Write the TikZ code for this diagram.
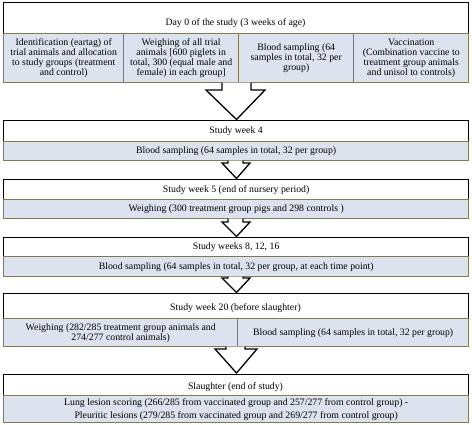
\documentclass[tikz,border=0pt]{standalone}
\usepackage{fontspec}
\setmainfont{Liberation Serif}
\definecolor{subfill}{RGB}{221,227,238}
\definecolor{olive}{RGB}{130,122,82}
\begin{document}
\begin{tikzpicture}[x=1bp,y=-1bp,
  hdr/.style={draw=black,line width=1.3bp,fill=white,anchor=north west,inner sep=0pt},
  sub/.style={draw=olive,line width=1.4bp,fill=subfill,anchor=north west,inner sep=0pt,align=center,
    font=\fontsize{9.8bp}{10bp}\selectfont},
  txt/.style={inner sep=0pt,font=\fontsize{9.8bp}{10bp}\selectfont,align=center},
  arr/.style={draw=black,line width=1.3bp,fill=white,line join=miter}]
\useasboundingbox (0,0) rectangle (472,424);
% Block 1
\node[hdr,minimum width=465bp,minimum height=31bp] (h1) at (3,2) {};
\node[txt] (h1t) at (235.5,23) {Day 0 of the study (3 weeks of age)};
\node[sub,minimum width=120bp,minimum height=49bp] (s1a) at (3,33) {};
\node[sub,minimum width=115bp,minimum height=49bp] (s1b) at (123,33) {};
\node[sub,minimum width=115bp,minimum height=49bp] (s1c) at (238,33) {};
\node[sub,minimum width=115bp,minimum height=49bp] (s1d) at (353,33) {};
\node[txt] (t1a) at (s1a.center) {Identification (eartag) of\\trial animals and allocation\\to study groups (treatment\\and control)};
\node[txt] (t1b) at (s1b.center) {Weighing of all trial\\animals [600 piglets in\\total, 300 (equal male and\\female) in each group]};
\node[txt] (t1c) at (s1c.center) {Blood sampling (64\\samples in total, 32 per\\group)};
\node[txt] (t1d) at (s1d.center) {Vaccination\\(Combination vaccine to\\treatment group animals\\and unisol to controls)};
% Arrow 1
\draw[arr] (222,82.7) -- (222,90) -- (206,90) -- (236.5,119.5) -- (265,90) -- (251,90) -- (251,82.7);
% Block 2
\node[hdr,minimum width=465bp,minimum height=21bp] (h2) at (3,120) {};
\node[txt] (h2t) at (h2.center) {Study week 4};
\node[sub,minimum width=465bp,minimum height=19bp] (s2) at (3,141) {Blood sampling (64 samples in total, 32 per group)};
% Arrow 2
\draw[arr] (228,160.7) -- (228,163) -- (222,163) -- (236.5,178.5) -- (250,163) -- (243,163) -- (243,160.7);
% Block 3
\node[hdr,minimum width=465bp,minimum height=20bp] (h3) at (3,179) {};
\node[txt] (h3t) at (h3.center) {Study week 5 (end of nursery period)};
\node[sub,minimum width=465bp,minimum height=19bp] (s3) at (3,199) {Weighing (300 treatment group pigs and 298 controls )};
% Arrow 3
\draw[arr] (228,218.7) -- (228,222) -- (222,222) -- (236.5,236.5) -- (250,222) -- (243,222) -- (243,218.7);
% Block 4
\node[hdr,minimum width=465bp,minimum height=19bp] (h4) at (3,237) {};
\node[txt] (h4t) at (h4.center) {Study weeks 8, 12, 16};
\node[sub,minimum width=465bp,minimum height=20bp] (s4) at (3,256) {Blood sampling (64 samples in total, 32 per group, at each time point)};
% Arrow 4
\draw[arr] (228,276.7) -- (228,278) -- (222,278) -- (236.5,292.5) -- (250,278) -- (243,278) -- (243,276.7);
% Block 5
\node[hdr,minimum width=465bp,minimum height=25bp] (h5) at (3,293) {};
\node[txt] (h5t) at (235.5,308) {Study week 20 (before slaughter)};
\node[sub,minimum width=234bp,minimum height=28bp] (s5a) at (3,318) {Weighing (282/285 treatment group animals and\\274/277 control animals)};
\node[sub,minimum width=231bp,minimum height=28bp] (s5b) at (237,318) {Blood sampling (64 samples in total, 32 per group)};
% Arrow 5
\draw[arr] (226,346.7) -- (226,349) -- (215,349) -- (236.5,373) -- (257,349) -- (245,349) -- (245,346.7);
% Block 6
\node[hdr,minimum width=465bp,minimum height=21bp] (h6) at (3,373.5) {};
\node[txt] (h6t) at (235.5,387) {Slaughter (end of study)};
\node[sub,minimum width=465bp,minimum height=27bp] (s6) at (3,395) {};
\node[txt,font=\fontsize{9.8bp}{13bp}\selectfont] (t6) at (s6.center) {Lung lesion scoring (266/285 from vaccinated group and 257/277 from control group) -\\Pleuritic lesions (279/285 from vaccinated group and 269/277 from control group)};
\end{tikzpicture}
\end{document}
